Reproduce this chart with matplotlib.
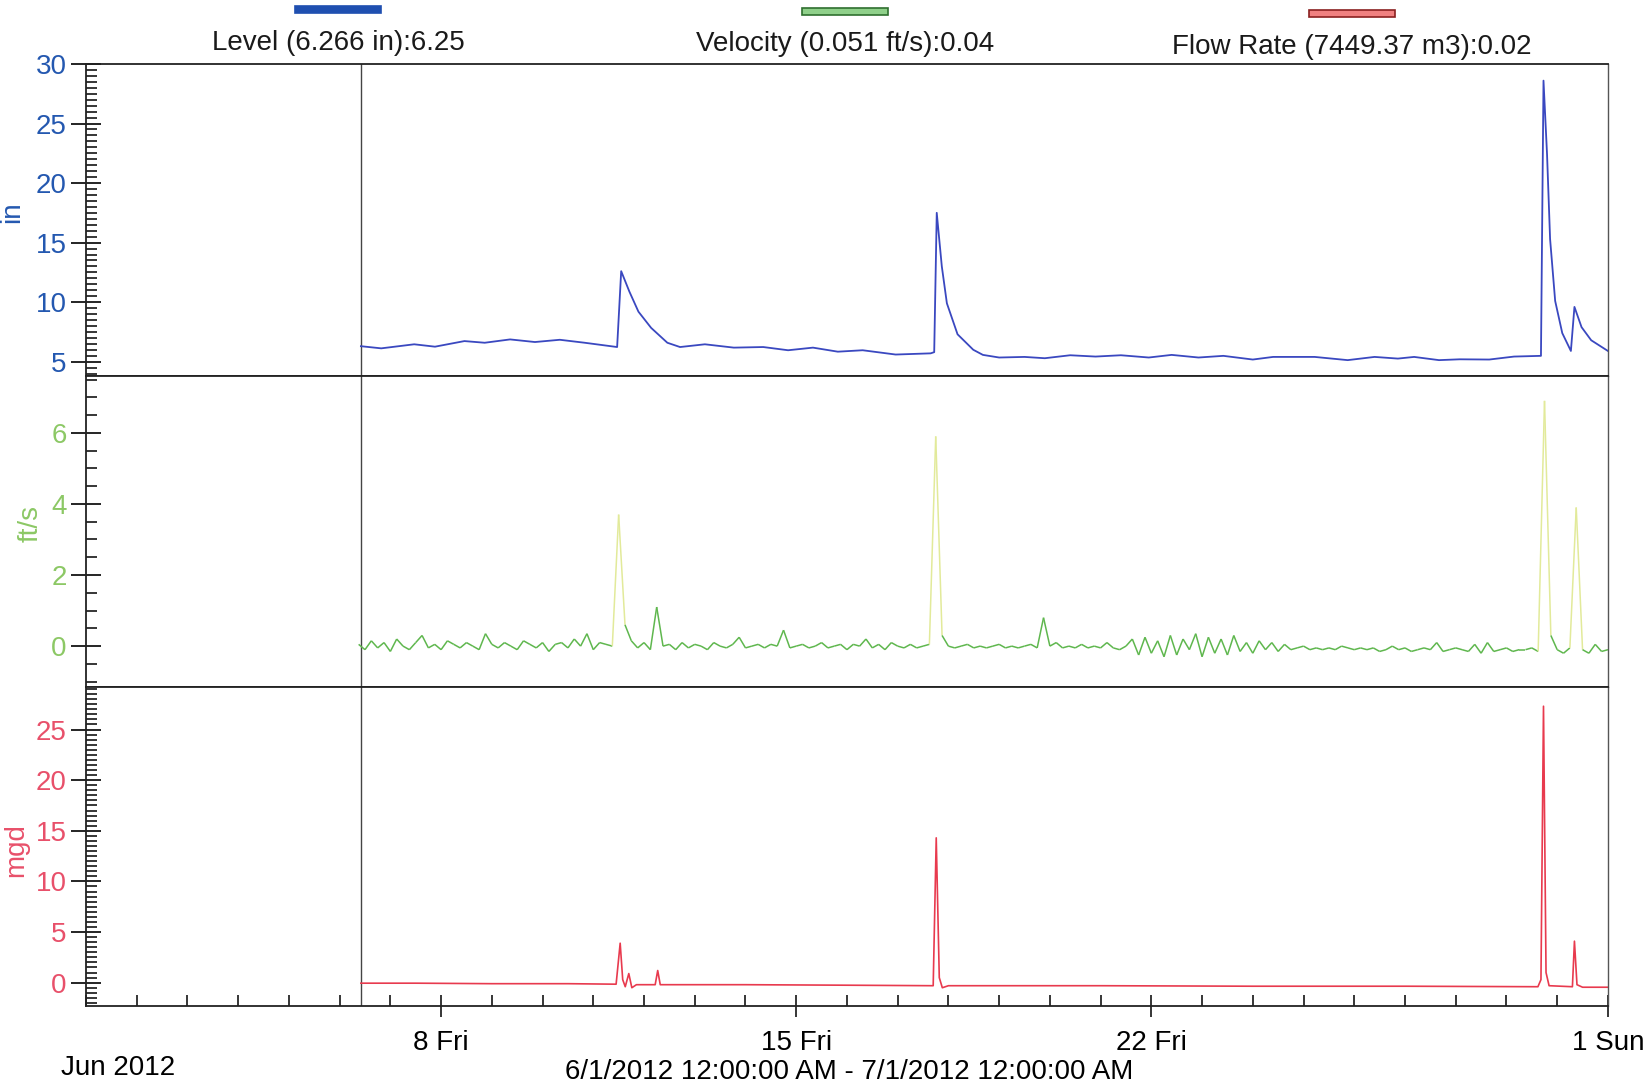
import numpy as np
import matplotlib.pyplot as plt
from matplotlib.ticker import MultipleLocator, FixedLocator, NullLocator
from matplotlib.collections import LineCollection
from matplotlib.patches import Rectangle

plt.rcParams['font.family'] = ['Liberation Sans', 'DejaVu Sans']

# --- data (days since 6/1/2012 00:00) ---
level_days = [5.42, 5.82, 6.47, 6.88, 7.46, 7.86, 8.36, 8.85, 9.34, 9.83, 10.47, 10.55,
              10.71, 10.89, 11.14, 11.46, 11.71, 12.20, 12.77, 13.35, 13.84, 14.33, 14.82,
              15.31, 15.96, 16.65, 16.72, 16.77, 16.87, 16.97, 17.18, 17.49, 17.68, 18.0,
              18.5, 18.9, 19.4, 19.9, 20.4, 20.95, 21.4, 21.93, 22.42, 23.0, 23.4, 24.22,
              24.87, 25.4, 25.86, 26.18, 26.67, 27.08, 27.66, 28.15, 28.68, 28.73, 28.8,
              28.86, 28.96, 29.1, 29.27, 29.34, 29.48, 29.67, 30.0]
level_in = [6.3, 6.12, 6.46, 6.26, 6.73, 6.59, 6.87, 6.65, 6.84, 6.59, 6.23, 12.6,
            10.9, 9.2, 7.84, 6.59, 6.23, 6.46, 6.18, 6.23, 5.96, 6.18, 5.84,
            5.96, 5.6, 5.7, 5.8, 17.5, 13.0, 9.9, 7.3, 6.0, 5.57, 5.35,
            5.4, 5.29, 5.54, 5.43, 5.54, 5.35, 5.57, 5.35, 5.49, 5.18, 5.4, 5.4,
            5.13, 5.4, 5.26, 5.4, 5.13, 5.2, 5.18, 5.43, 5.49, 28.6, 22.4,
            15.3, 10.1, 7.4, 5.9, 9.6, 7.9, 6.8, 5.9]

# velocity logged every 3 hours starting 6/6 09:00
vel_start = 5.375
vel_step = 0.125
velocity_fps = [
    0.05, -0.1, 0.15, -0.05, 0.1, -0.15, 0.2, 0.0,
    -0.1, 0.1, 0.3, -0.05, 0.05, -0.1, 0.15, 0.05,
    -0.05, 0.1, 0.0, -0.1, 0.35, 0.05, -0.05, 0.1,
    0.0, -0.1, 0.15, 0.05, -0.05, 0.1, -0.15, 0.05,
    0.1, -0.05, 0.2, 0.0, 0.35, -0.1, 0.1, 0.05,
    0.0, 3.7, 0.6, 0.15, -0.05, 0.1, -0.1, 1.1,
    0.0, 0.05, -0.1, 0.1, -0.05, 0.05, 0.0, -0.1,
    0.1, 0.0, -0.05, 0.05, 0.25, -0.05, 0.0, 0.05,
    -0.05, 0.05, 0.0, 0.45, -0.05, 0.0, 0.05, -0.05,
    0.0, 0.1, -0.05, 0.0, 0.05, -0.1, 0.05, 0.0,
    0.2, -0.05, 0.05, -0.1, 0.1, 0.0, -0.05, 0.05,
    -0.05, 0.0, 0.05, 5.9, 0.3, 0.0, -0.05, 0.0,
    0.05, -0.05, 0.0, -0.05, 0.0, 0.05, -0.05, 0.0,
    -0.05, 0.0, 0.05, -0.05, 0.8, 0.0, 0.1, -0.05,
    0.0, -0.05, 0.05, -0.05, 0.0, -0.05, 0.1, -0.05,
    -0.1, 0.0, 0.2, -0.25, 0.25, -0.2, 0.15, -0.3,
    0.3, -0.25, 0.2, -0.1, 0.35, -0.3, 0.25, -0.2,
    0.2, -0.25, 0.3, -0.15, 0.1, -0.2, 0.15, -0.1,
    0.1, -0.15, 0.05, -0.1, -0.05, 0.0, -0.1, -0.05,
    -0.1, -0.05, -0.1, 0.0, -0.05, -0.1, -0.05, -0.1,
    -0.05, -0.15, -0.1, 0.0, -0.1, -0.05, -0.15, -0.1,
    -0.05, -0.1, 0.1, -0.15, -0.1, -0.05, -0.1, -0.15,
    0.05, -0.2, 0.1, -0.15, -0.1, -0.05, -0.15, -0.1,
    -0.1, -0.05, -0.15, 6.9, 0.3, -0.1, -0.2, -0.05,
    3.9, -0.1, -0.2, 0.05, -0.15, -0.1]

flow_days = [5.42, 6.5, 8.0, 9.5, 10.45, 10.53, 10.58, 10.63, 10.70, 10.76, 10.85, 11.22,
             11.27, 11.32, 13.0, 15.0, 16.70, 16.76, 16.82, 16.88, 17.0, 20.0, 23.0, 26.0,
             28.62, 28.68, 28.73, 28.78, 28.84, 29.3, 29.34, 29.39, 29.5, 30.0]
flow_mgd = [-0.05, -0.05, -0.1, -0.1, -0.15, 3.9, 0.3, -0.4, 0.9, -0.5, -0.2, -0.2,
            1.2, -0.2, -0.2, -0.25, -0.3, 14.3, 0.5, -0.5, -0.3, -0.3, -0.35, -0.35,
            -0.4, 0.3, 27.3, 1.0, -0.3, -0.4, 4.1, -0.2, -0.45, -0.45]

xtick_days = [7, 14, 21, 30]
xtick_labels = ['8 Fri', '15 Fri', '22 Fri', '1 Sun']

legend_texts = ['Level (6.266 in):6.25', 'Velocity (0.051 ft/s):0.04', 'Flow Rate (7449.37 m3):0.02']

BLUE = '#2458b0'
GREEN = '#8cc865'
RED = '#e8506a'
FS = 20

fig = plt.figure(figsize=(16.5, 10.86), dpi=100)
ax1 = fig.add_axes([0.0521, 0.6538, 0.9224, 0.2873])
ax2 = fig.add_axes([0.0521, 0.3674, 0.9224, 0.2864])
ax3 = fig.add_axes([0.0521, 0.0737, 0.9224, 0.2937])


def style_axis(ax, color, major, minor, ylim, label, lx, ly):
    ax.set_xlim(0, 30)
    ax.set_ylim(*ylim)
    ax.yaxis.set_major_locator(MultipleLocator(major))
    ax.yaxis.set_minor_locator(MultipleLocator(minor))
    ax.tick_params(axis='y', which='major', direction='inout', length=22, width=1.2,
                   labelsize=FS, labelcolor=color, pad=3)
    ax.tick_params(axis='y', which='minor', direction='in', length=8, width=1.1)
    ax.set_ylabel(label, color=color, fontsize=FS)
    ax.yaxis.set_label_coords(lx, ly)
    for s in ['left', 'top', 'bottom']:
        ax.spines[s].set_color('#222222')
        ax.spines[s].set_linewidth(1.3)
    ax.spines['right'].set_color('#555555')
    ax.spines['right'].set_linewidth(1.0)
    ax.axvline(level_days[0], color='#444444', linewidth=1.0)


style_axis(ax1, BLUE, 5, 0.5, (3.8, 30), 'in', -0.040, 0.526)
style_axis(ax2, GREEN, 2, 0.5, (-1.15, 7.6), 'ft/s', -0.028, 0.527)
style_axis(ax3, RED, 5, 0.5, (-2.3, 29.2), 'mgd', -0.037, 0.489)

# hide the bottom tick marks of the upper panels
for ax in (ax1, ax2):
    ax.xaxis.set_major_locator(NullLocator())
    ax.xaxis.set_minor_locator(NullLocator())

# level
ax1.plot(level_days, level_in, color='#3a48c0', linewidth=1.3)

# velocity: pale where the trace spikes
vel_days = vel_start + vel_step * np.arange(len(velocity_fps))
pts = np.column_stack([vel_days, velocity_fps])
segs = np.stack([pts[:-1], pts[1:]], axis=1)
seg_max = np.maximum(pts[:-1, 1], pts[1:, 1])
seg_cols = ['#e2ea9a' if m > 1.5 else '#5fb74e' for m in seg_max]
ax2.add_collection(LineCollection(segs, colors=seg_cols, linewidths=1.1))

# flow rate
ax3.plot(flow_days, flow_mgd, color='#e83a4e', linewidth=1.2)

# x axis of the bottom panel
ax3.xaxis.set_major_locator(FixedLocator(xtick_days))
ax3.xaxis.set_minor_locator(MultipleLocator(1))
ax3.set_xticklabels(xtick_labels)
ax3.tick_params(axis='x', which='major', direction='inout', length=16, width=1.1,
                labelsize=FS, pad=9)
ax3.tick_params(axis='x', which='minor', direction='in', length=8, width=1.1)

# legend bars and texts above the plot
bar_cx = [338 / 1650, 845 / 1650, 1352 / 1650]
bar_y = [1 - 13 / 1086, 1 - 15 / 1086, 1 - 17 / 1086]
bar_face = ['#1f4fb0', '#8fd08a', '#f08080']
bar_edge = ['#1f4fb0', '#2f6f2f', '#8a2020']
text_y = [1 - 43 / 1086, 1 - 44 / 1086, 1 - 47 / 1086]
bw, bh = 86 / 1650, 7 / 1086
for cx, by, fc, ec, ty, txt in zip(bar_cx, bar_y, bar_face, bar_edge, text_y, legend_texts):
    fig.patches.append(Rectangle((cx - bw / 2, by), bw, bh, transform=fig.transFigure,
                                 facecolor=fc, edgecolor=ec, linewidth=1.2))
    fig.text(cx, ty, txt, ha='center', va='center', fontsize=FS, color='#1a1a1a')

fig.text(61 / 1650, 1 - 1068 / 1086, 'Jun 2012', ha='left', va='center', fontsize=FS)
fig.text(849 / 1650, 1 - 1072 / 1086, '6/1/2012 12:00:00 AM - 7/1/2012 12:00:00 AM',
         ha='center', va='center', fontsize=FS)

fig.savefig('out.png', dpi=100)
